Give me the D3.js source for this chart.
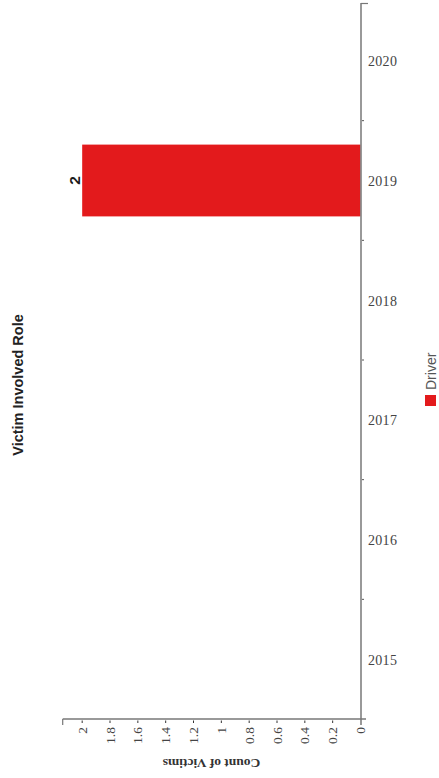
<!DOCTYPE html>
<html>
<head>
<meta charset="utf-8">
<script src="https://cdn.jsdelivr.net/npm/d3@7"></script>
<style>
  html, body { margin: 0; padding: 0; background: #fff; }
  svg { display: block; }
</style>
</head>
<body>
<svg id="chart" width="439" height="778"></svg>
<script>
const title = "Victim Involved Role";
const valueAxisTitle = "Count of Victims";
const years = ["2015", "2016", "2017", "2018", "2019", "2020"];
const seriesName = "Driver";
const driverValues = [0, 0, 0, 0, 2, 0];
const valueTicks = [0, 0.2, 0.4, 0.6, 0.8, 1, 1.2, 1.4, 1.6, 1.8, 2];
const seriesColor = "#e31a1c";

const svg = d3.select("#chart");

// category scale (vertical, 2015 at bottom)
const y = d3.scaleBand().domain(years).range([719, 1]).paddingInner(0.4).paddingOuter(0.2);
// value scale (horizontal, 0 at right)
const x = d3.scaleLinear().domain([0, 2.14]).range([360.5, 62.7]);

const axisColor = "#777";

// bars
const data = years.map((yr, i) => ({ year: yr, value: driverValues[i] })).filter(d => d.value > 0);
svg.append("g").selectAll("rect").data(data).join("rect")
  .attr("x", d => x(d.value))
  .attr("y", d => y(d.year))
  .attr("width", d => x(0) - x(d.value))
  .attr("height", y.bandwidth())
  .attr("fill", seriesColor);

// bar value labels
svg.append("g").selectAll("text").data(data).join("text")
  .attr("transform", d => `translate(${x(d.value) - 2.5},${y(d.year) + y.bandwidth() / 2}) rotate(-90)`)
  .attr("text-anchor", "middle")
  .attr("font-family", "Liberation Sans, Arial, sans-serif")
  .attr("font-weight", "bold")
  .attr("font-size", 15.5)
  .attr("fill", "#1a1a1a")
  .text(d => d.value);

// category axis line
const step = y.step();
const catTop = 3;
svg.append("line").attr("x1", 361).attr("x2", 361).attr("y1", catTop).attr("y2", 725)
  .attr("stroke", axisColor).attr("stroke-width", 1.5);
svg.append("line").attr("x1", 361).attr("x2", 368).attr("y1", catTop + 0.5).attr("y2", catTop + 0.5)
  .attr("stroke", axisColor).attr("stroke-width", 1.2);

// category boundary ticks
const boundaries = years.slice(1).map(yr => y(yr) + y.bandwidth() + y.paddingInner() * step / 2);
svg.append("g").selectAll("line").data(boundaries).join("line")
  .attr("x1", 362).attr("x2", 364).attr("y1", d => d).attr("y2", d => d)
  .attr("stroke", "#555").attr("stroke-width", 1);

// category labels
svg.append("g").selectAll("text").data(years).join("text")
  .attr("x", 368)
  .attr("y", d => y(d) + y.bandwidth() / 2 + 1)
  .attr("dominant-baseline", "central")
  .attr("font-family", "Liberation Serif, Times New Roman, serif")
  .attr("font-size", 14)
  .attr("letter-spacing", 0.3)
  .attr("fill", "#444")
  .text(d => d);

// value axis
svg.append("line").attr("x1", x.range()[1]).attr("x2", 366).attr("y1", 719).attr("y2", 719)
  .attr("stroke", axisColor).attr("stroke-width", 1.5);
svg.append("line").attr("x1", x.range()[1]).attr("x2", x.range()[1]).attr("y1", 719).attr("y2", 725)
  .attr("stroke", axisColor).attr("stroke-width", 1.2);
svg.append("g").selectAll("line").data(valueTicks.slice(1)).join("line")
  .attr("x1", d => x(d)).attr("x2", d => x(d)).attr("y1", 720.5).attr("y2", 723)
  .attr("stroke", "#333").attr("stroke-width", 1);
svg.append("g").selectAll("text").data(valueTicks).join("text")
  .attr("transform", d => `translate(${x(d)},727) rotate(-90)`)
  .attr("text-anchor", "end")
  .attr("dominant-baseline", "central")
  .attr("font-family", "Liberation Serif, Times New Roman, serif")
  .attr("font-size", 13.5)
  .attr("fill", "#444")
  .text(d => d3.format("~g")(d));

// value axis title (upside down)
svg.append("text")
  .attr("transform", `translate(${(x.range()[0] + x.range()[1]) / 2},763) rotate(180)`)
  .attr("text-anchor", "middle")
  .attr("dominant-baseline", "central")
  .attr("font-family", "Liberation Serif, Times New Roman, serif")
  .attr("font-weight", "bold")
  .attr("font-size", 13.5)
  .attr("fill", "#333")
  .text(valueAxisTitle);

// chart title
svg.append("text")
  .attr("transform", `translate(23,385) rotate(-90)`)
  .attr("text-anchor", "middle")
  .attr("font-family", "Liberation Sans, Arial, sans-serif")
  .attr("font-weight", "bold")
  .attr("font-size", 14.5)
  .attr("fill", "#222")
  .text(title);

// legend
const lg = svg.append("g");
lg.append("rect").attr("x", 425).attr("y", 395).attr("width", 11).attr("height", 11).attr("fill", seriesColor);
lg.append("text")
  .attr("transform", `translate(435.5,390) rotate(-90)`)
  .attr("text-anchor", "start")
  .attr("font-family", "Liberation Sans, Arial, sans-serif")
  .attr("font-size", 14)
  .attr("fill", "#555")
  .text(seriesName);
</script>
</body>
</html>
